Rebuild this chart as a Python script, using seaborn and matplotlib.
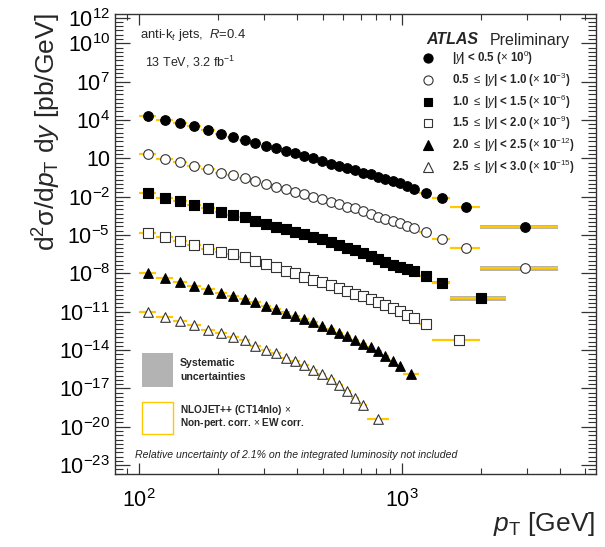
import numpy as np
import pandas as pd
import matplotlib
matplotlib.use("Agg")
import matplotlib.pyplot as plt
import seaborn as sns
from matplotlib.ticker import FixedLocator, FixedFormatter, NullFormatter
from matplotlib.patches import Rectangle

# ---------------- data ----------------
edges_full = [100, 116, 134, 152, 172, 194, 216, 240, 264, 290, 318, 346, 376, 408,
              442, 478, 516, 556, 598, 642, 688, 736, 786, 838, 894, 952, 1012,
              1076, 1162, 1310, 1530, 1992, 3937]
edges_y0 = edges_full
edges_y1 = edges_full
edges_y2 = edges_full[:31] + [2500]
edges_y3 = edges_full[:30] + [1992]
edges_y4 = edges_full[:27] + [1162]
edges_y5 = edges_full[:22] + [894]

# cross sections [pb/GeV] before scaling
xs_y0 = [2.2e4, 1.0e4, 5.3e3, 3.1e3, 1.5e3, 8.0e2, 4.3e2, 2.5e2, 1.6e2, 1.0e2, 61, 37.5,
         24.8, 15.2, 9.7, 6.2, 3.9, 2.5, 1.66, 1.12, 0.74, 0.55, 0.37, 0.24, 0.17, 0.11,
         0.069, 0.038, 0.020, 7.4e-3, 1.5e-3, 4.5e-5]
xs_y1 = [2.1e4, 8.9e3, 4.9e3, 2.6e3, 1.39e3, 7.5e2, 4.7e2, 2.7e2, 1.7e2, 98, 60, 38,
         24.5, 15.3, 10, 6.6, 4.0, 2.7, 1.64, 1.19, 0.76, 0.44, 0.27, 0.18, 0.125, 0.083,
         0.051, 0.034, 0.018, 4.9e-3, 1.0e-3, 2.6e-5]
xs_y2 = [1.77e4, 8.6e3, 4.2e3, 2.15e3, 1.26e3, 6.3e2, 3.8e2, 2.35e2, 1.3e2, 77, 42.5, 27,
         16.3, 11.4, 7.3, 4.5, 2.7, 1.66, 0.96, 0.62, 0.37, 0.23, 0.133, 0.077, 0.049,
         0.031, 0.021, 0.014, 6.6e-3, 1.86e-3, 1.24e-4]
xs_y3 = [1.36e4, 7.0e3, 3.4e3, 1.66e3, 7.8e2, 4.4e2, 3.0e2, 1.84e2, 1.0e2, 56, 30, 16.7,
         9.8, 5.5, 3.3, 1.93, 1.30, 0.69, 0.43, 0.265, 0.169, 0.099, 0.061, 0.035, 0.019,
         0.0117, 6.0e-3, 3.2e-3, 1.15e-3, 6.1e-5]
xs_y4 = [1.07e4, 4.5e3, 2.2e3, 1.12e3, 5.7e2, 3.07e2, 1.79e2, 95, 54, 27, 15.7, 8.2, 4.8,
         2.8, 1.65, 0.83, 0.47, 0.235, 0.119, 0.061, 0.0325, 0.0173, 8.4e-3, 3.4e-3,
         1.47e-3, 5.6e-4, 1.29e-4]
xs_y5 = [9.5e3, 3.65e3, 1.98e3, 8.6e2, 4.05e2, 2.15e2, 1.05e2, 56, 22.6, 11, 5.9, 2.6,
         1.34, 0.62, 0.30, 0.141, 0.054, 0.019, 6.2e-3, 1.93e-3, 5.5e-4, 4.0e-5]

# relative systematic uncertainties
sys_y0 = [0.06, 0.05, 0.05, 0.05, 0.05, 0.05, 0.05, 0.05, 0.05, 0.05, 0.05, 0.05, 0.05, 0.05,
          0.05, 0.05, 0.06, 0.06, 0.06, 0.06, 0.06, 0.07, 0.07, 0.07, 0.08, 0.08, 0.09, 0.10,
          0.11, 0.14, 0.20, 0.35]
sys_y1 = [0.06, 0.05, 0.05, 0.05, 0.05, 0.05, 0.05, 0.05, 0.05, 0.05, 0.05, 0.05, 0.05, 0.05,
          0.06, 0.06, 0.06, 0.06, 0.07, 0.07, 0.07, 0.08, 0.08, 0.09, 0.09, 0.10, 0.11, 0.12,
          0.14, 0.18, 0.25, 0.40]
sys_y2 = [0.07, 0.06, 0.06, 0.06, 0.06, 0.06, 0.06, 0.06, 0.06, 0.06, 0.06, 0.07, 0.07, 0.07,
          0.07, 0.08, 0.08, 0.08, 0.09, 0.09, 0.10, 0.10, 0.11, 0.12, 0.13, 0.14, 0.15, 0.17,
          0.20, 0.25, 0.40]
sys_y3 = [0.15, 0.15, 0.15, 0.15, 0.15, 0.15, 0.15, 0.15, 0.16, 0.16, 0.16, 0.17, 0.17, 0.18,
          0.18, 0.19, 0.20, 0.21, 0.22, 0.23, 0.24, 0.25, 0.27, 0.29, 0.31, 0.33, 0.35, 0.38,
          0.42, 0.50]
sys_y4 = [0.12, 0.12, 0.12, 0.12, 0.12, 0.12, 0.12, 0.12, 0.13, 0.13, 0.13, 0.14, 0.14, 0.15,
          0.15, 0.16, 0.17, 0.18, 0.19, 0.20, 0.22, 0.24, 0.26, 0.29, 0.32, 0.36, 0.45]
sys_y5 = [0.15, 0.15, 0.15, 0.15, 0.15, 0.15, 0.16, 0.16, 0.17, 0.17, 0.18, 0.19, 0.20, 0.21,
          0.23, 0.25, 0.28, 0.31, 0.35, 0.40, 0.45, 0.60]

scale_factors = [1e0, 1e-3, 1e-6, 1e-9, 1e-12, 1e-15]
legend_labels = [
    r"|$y$| < 0.5 ($\times$ 10$^{0}$)",
    r"0.5 $\leq$ |$y$| < 1.0 ($\times$ 10$^{-3}$)",
    r"1.0 $\leq$ |$y$| < 1.5 ($\times$ 10$^{-6}$)",
    r"1.5 $\leq$ |$y$| < 2.0 ($\times$ 10$^{-9}$)",
    r"2.0 $\leq$ |$y$| < 2.5 ($\times$ 10$^{-12}$)",
    r"2.5 $\leq$ |$y$| < 3.0 ($\times$ 10$^{-15}$)",
]
y_tick_values = [1e12, 1e10, 1e7, 1e4, 1e1, 1e-2, 1e-5, 1e-8, 1e-11, 1e-14, 1e-17, 1e-20, 1e-23]
y_tick_labels = [r"$10^{12}$", r"$10^{10}$", r"$10^{7}$", r"$10^{4}$", "10", r"$10^{-2}$",
                 r"$10^{-5}$", r"$10^{-8}$", r"$10^{-11}$", r"$10^{-14}$", r"$10^{-17}$",
                 r"$10^{-20}$", r"$10^{-23}$"]
x_tick_values = [100, 1000]
x_tick_labels = [r"$10^{2}$", r"$10^{3}$"]

all_edges = [edges_y0, edges_y1, edges_y2, edges_y3, edges_y4, edges_y5]
all_xs = [xs_y0, xs_y1, xs_y2, xs_y3, xs_y4, xs_y5]
all_sys = [sys_y0, sys_y1, sys_y2, sys_y3, sys_y4, sys_y5]

rows = []
for k, (ed, xs, sy) in enumerate(zip(all_edges, all_xs, all_sys)):
    ed = np.asarray(ed, float)
    for i in range(len(xs)):
        lo, hi = ed[i], ed[i + 1]
        rows.append(dict(series=k, lo=lo, hi=hi, pt=0.5 * (lo + hi),
                         xs=xs[i] * scale_factors[k], sys=sy[i]))
df = pd.DataFrame(rows)

# ---------------- style ----------------
sns.set_theme(style="ticks")
plt.rcParams.update({
    "font.family": ["Liberation Sans", "DejaVu Sans"],
    "mathtext.fontset": "custom",
    "mathtext.rm": "Liberation Sans",
    "mathtext.it": "Liberation Sans:italic",
    "mathtext.bf": "Liberation Sans:bold",
    "mathtext.sf": "Liberation Sans",
    "axes.edgecolor": "#333333",
    "axes.linewidth": 1.0,
    "xtick.color": "#333333",
    "ytick.color": "#333333",
    "xtick.labelcolor": "black",
    "ytick.labelcolor": "black",
})

W, H = 605, 547
fig = plt.figure(figsize=(W / 100, H / 100), dpi=100)
L, R, T, B = 115, 595.7, 14, 474.3
ax = fig.add_axes([L / W, 1 - B / H, (R - L) / W, (B - T) / H])
ax.set_xscale("log")
ax.set_yscale("log")
ax.set_xlim(80.8, 5490)
ax.set_ylim(10 ** -23.72, 10 ** 12.29)

gray = "#b3b3b3"
gold = "#ffc800"

# systematic bands
ax.bar(x=df["lo"], height=df["xs"] * 2 * df["sys"], width=df["hi"] - df["lo"],
       bottom=df["xs"] * (1 - df["sys"]), align="edge", color=gray, linewidth=0, zorder=1)
# theory lines
ax.hlines(df["xs"], df["lo"], df["hi"], color=gold, linewidth=1.6, zorder=2)

markers = ["o", "o", "s", "s", "^", "^"]
filled = [True, False, True, False, True, False]
sizes = [48, 48, 42, 42, 48, 48]
for k in range(6):
    d = df[df["series"] == k]
    sns.scatterplot(data=d, x="pt", y="xs", ax=ax, marker=markers[k], s=sizes[k],
                    color="black" if filled[k] else "white",
                    edgecolor="black" if filled[k] else "#333333",
                    linewidth=0.8, zorder=3, legend=False)

ax.set_xlabel("")
ax.set_ylabel("")

# ticks
ax.yaxis.set_major_locator(FixedLocator(y_tick_values))
ax.yaxis.set_major_formatter(FixedFormatter(y_tick_labels))
ax.yaxis.set_minor_locator(FixedLocator([10 ** (e / 3) for e in range(-72, 37)]))
ax.yaxis.set_minor_formatter(NullFormatter())
ax.xaxis.set_major_locator(FixedLocator(x_tick_values))
ax.xaxis.set_major_formatter(FixedFormatter(x_tick_labels))
ax.xaxis.set_minor_locator(FixedLocator([m * 10 ** e for e in (1, 2, 3) for m in range(2, 10)]))
ax.xaxis.set_minor_formatter(NullFormatter())
ax.tick_params(axis="y", which="major", direction="in", length=11, width=0.9,
               left=True, right=True, labelsize=15.5, pad=3.5)
ax.tick_params(axis="y", which="minor", direction="in", length=5.5, width=0.8,
               left=True, right=True)
ax.tick_params(axis="x", which="major", direction="in", length=8, width=0.9,
               bottom=True, top=True, labelsize=15.5, pad=11)
ax.tick_params(axis="x", which="minor", direction="in", length=4.5, width=0.8,
               bottom=True, top=True)

# axis titles
fig.text(47 / W, 1 - 13 / H, r"d$^{2}$σ/d$p_{\rm T}$ d$y$ [pb/GeV]", rotation=90,
         ha="center", va="top", fontsize=19)
fig.text(R / W, 1 - 510 / H, r"$p_{\rm T}$ [GeV]", ha="right", va="top", fontsize=19)

def axx(px):
    return (px - L) / (R - L)

def axy(py):
    return (B - py) / (B - T)

# text annotations
ax.text(axx(140), axy(35), r"anti-k$_{t}$ jets,  $R$=0.4", transform=ax.transAxes,
        ha="left", va="center", fontsize=9.4)
ax.text(axx(145), axy(61.7), r"13 TeV, 3.2 fb$^{-1}$", transform=ax.transAxes,
        ha="left", va="center", fontsize=9)
ax.text(axx(426.7), axy(40), "ATLAS", transform=ax.transAxes, ha="left", va="center",
        fontsize=11.5, fontweight="bold", fontstyle="italic")
ax.text(axx(489.3), axy(40), "Preliminary", transform=ax.transAxes, ha="left",
        va="center", fontsize=11.5)

leg_y = [58.3, 80, 101.7, 123.3, 145, 166.7]
for k in range(6):
    ax.plot([axx(428)], [axy(leg_y[k])], transform=ax.transAxes, marker=markers[k],
            ms=np.sqrt(sizes[k]) * 0.95, color="black",
            mfc="black" if filled[k] else "white",
            mec="black" if filled[k] else "#333333", mew=0.8, clip_on=False, ls="none")
    ax.text(axx(451.7), axy(leg_y[k]), legend_labels[k], transform=ax.transAxes,
            ha="left", va="center", fontsize=8.3, fontweight="bold")

ax.add_patch(Rectangle((axx(141.7), axy(387)), axx(173.3) - axx(141.7), axy(353) - axy(387),
                       transform=ax.transAxes, facecolor=gray, edgecolor="none"))
ax.add_patch(Rectangle((axx(141.7), axy(434)), axx(172.7) - axx(141.7), axy(401.7) - axy(434),
                       transform=ax.transAxes, facecolor="white", edgecolor=gold, lw=1.0))
ax.text(axx(180), axy(363), "Systematic", transform=ax.transAxes, ha="left", va="center",
        fontsize=7.6, fontweight="bold")
ax.text(axx(180), axy(376.7), "uncertainties", transform=ax.transAxes, ha="left",
        va="center", fontsize=7.6, fontweight="bold")
ax.text(axx(180), axy(410), r"NLOJET++ (CT14nlo) $\times$", transform=ax.transAxes,
        ha="left", va="center", fontsize=7.3, fontweight="bold")
ax.text(axx(180), axy(423.5), r"Non-pert. corr. $\times$ EW corr.", transform=ax.transAxes,
        ha="left", va="center", fontsize=7.3, fontweight="bold")
ax.text(axx(135), axy(455), "Relative uncertainty of 2.1% on the integrated luminosity not included",
        transform=ax.transAxes, ha="left", va="center", fontsize=7.55, fontstyle="italic",
        color="#222222")

fig.savefig("out.png", dpi=100)
